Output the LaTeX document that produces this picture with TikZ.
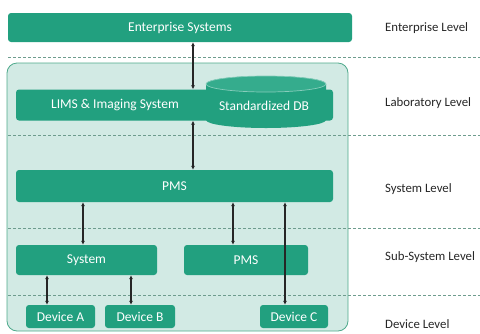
\documentclass[tikz,border=0pt]{standalone}
\usepackage{fontspec}
\setmainfont{Carlito}
\usetikzlibrary{arrows.meta}
\definecolor{boxgreen}{HTML}{22A07F}
\definecolor{topgreen}{HTML}{35AC8D}
\definecolor{bgfill}{HTML}{D2EAE4}
\definecolor{bgedge}{HTML}{4FAA8C}
\definecolor{sepgray}{HTML}{6E9C8E}

\begin{document}
\begin{tikzpicture}[x=1pt, y=-1pt,
	box/.style={fill=boxgreen, rounded corners=3pt, inner sep=0pt},
	boxtext/.style={text=white, font=\fontsize{13.5}{15}\selectfont},
	lvl/.style={anchor=west, inner sep=0pt, text=black!85, font=\fontsize{12.8}{15}\selectfont},
	link/.style={{Latex[length=4pt,width=4pt]}-{Latex[length=4pt,width=4pt]}, line width=1.1pt, black!85},
	sep/.style={dash pattern=on 3pt off 2pt, line width=0.9pt, sepgray}]
		\useasboundingbox (0,0) rectangle (480,333);
		
		\node[draw=bgedge, fill=bgfill, line width=0.8pt, rounded corners=10pt, minimum width=341pt, minimum height=268pt] (lab) at (177.5,197) {};
		\foreach \y in {57,135,228,295}
			\draw[sep] (8,\y) -- (480,\y);
		
		\node[box, boxtext, minimum width=344pt, minimum height=29pt] (ent) at (180,27.5) {Enterprise Systems};
		\node[box, minimum width=317pt, minimum height=31pt] (lims) at (174.5,105) {};
		\node[boxtext] (limstxt) at (115,105) {LIMS \& Imaging System};
		\fill[boxgreen] (206,84) -- (206,120) arc[start angle=180, end angle=360, x radius=60pt, y radius=8pt] -- (326,84) arc[start angle=0, end angle=180, x radius=60pt, y radius=8pt] -- cycle;
		\draw[topgreen!60!white, fill=topgreen, line width=0.7pt] (266,84) ellipse [x radius=60pt, y radius=8pt];
		\node[boxtext] (db) at (264,106) {Standardized DB};
		\node[box, boxtext, minimum width=317pt, minimum height=32pt] (pms) at (174.5,186) {PMS};
		\node[box, boxtext, minimum width=141pt, minimum height=30pt] (sys) at (86.5,260) {System};
		\node[box, boxtext, minimum width=124pt, minimum height=30pt] (pmsb) at (246,260) {PMS};
		\node[box, boxtext, minimum width=69pt, minimum height=23pt] (deva) at (60.5,316.5) {Device A};
		\node[box, boxtext, minimum width=70pt, minimum height=23pt] (devb) at (140,316.5) {Device B};
		\node[box, boxtext, minimum width=68pt, minimum height=23pt] (devc) at (294,316.5) {Device C};
		
		\draw[link] (193,0 |- ent.south) -- (193,0 |- lims.north);
		\draw[link] (193,0 |- lims.south) -- (193,0 |- pms.north);
		\draw[link] (83,0 |- pms.south) -- (83,0 |- sys.north);
		\draw[link] (233,0 |- pms.south) -- (233,0 |- pmsb.north);
		\draw[link] (285,0 |- pms.south) -- (285,0 |- devc.north);
		\draw[link] (47,0 |- sys.south) -- (47,0 |- deva.north);
		\draw[link] (131,0 |- sys.south) -- (131,0 |- devb.north);
		
		\node[lvl] (l1) at (385,28) {Enterprise Level};
		\node[lvl] (l2) at (385,103) {Laboratory Level};
		\node[lvl] (l3) at (385,189) {System Level};
		\node[lvl] (l4) at (385,257) {Sub-System Level};
		\node[lvl] (l5) at (385,324) {Device Level};
	\end{tikzpicture}
\end{document}
